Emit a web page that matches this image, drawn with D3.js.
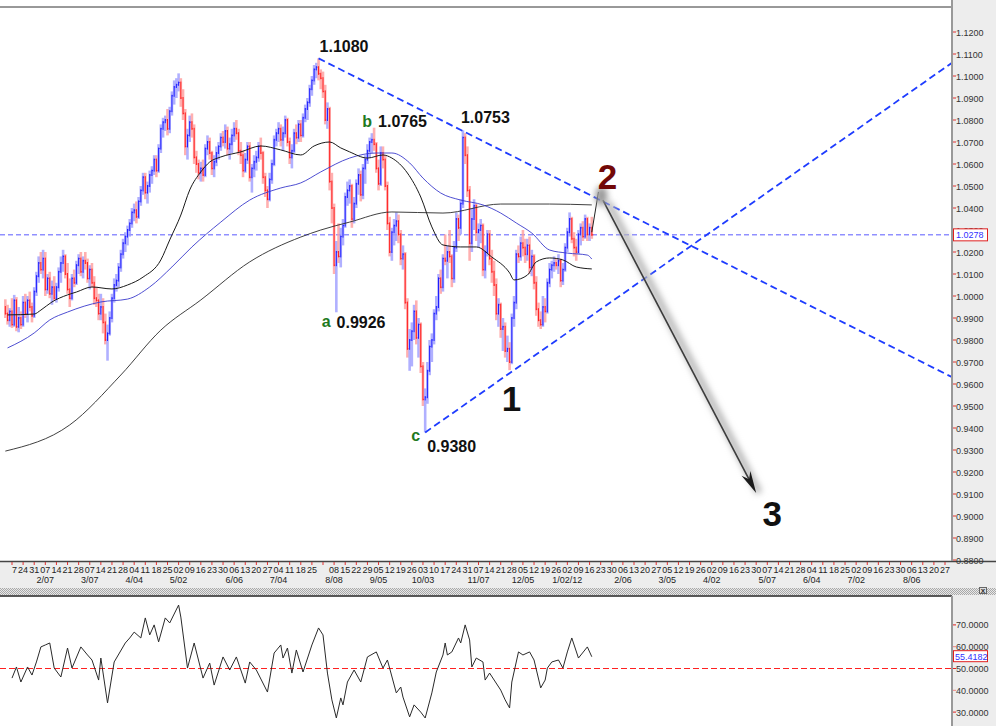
<!DOCTYPE html>
<html>
<head>
<meta charset="utf-8">
<script src="https://cdn.jsdelivr.net/npm/d3@7"></script>
<style>
body { margin: 0; background: #fff; }
svg { display: block; font-family: "Liberation Sans", Arial, sans-serif; }
</style>
</head>
<body>
<div id="chart"></div>
<script>
// day 0 = Mon 17 Jan 2011, one step per trading day
const firstBarDay = -3

// daily bars [open, high, low, close]
const bars = [
  [0.9950,0.9985,0.9900,0.9920],[0.9920,0.9960,0.9870,0.9890],[0.9890,0.9945,0.9860,0.9930],
  [0.9930,0.9990,0.9855,0.9870],[0.9870,1.0005,0.9860,0.9980],[0.9980,0.9995,0.9840,0.9860],[0.9860,0.9950,0.9835,0.9900],[0.9900,0.9930,0.9850,0.9870],
  [0.9870,1.0000,0.9860,0.9970],[0.9970,1.0010,0.9900,0.9920],[0.9920,1.0000,0.9880,0.9980],[0.9980,1.0020,0.9930,0.9950],[0.9950,0.9970,0.9880,0.9910],
  [0.9910,1.0040,0.9900,1.0020],[1.0020,1.0110,1.0000,1.0090],[1.0090,1.0180,1.0060,1.0150],[1.0150,1.0200,1.0100,1.0120],[1.0120,1.0210,1.0080,1.0170],
  [1.0170,1.0200,1.0000,1.0030],[1.0030,1.0100,1.0010,1.0080],[1.0080,1.0110,0.9990,1.0010],[1.0010,1.0070,0.9960,1.0040],[1.0040,1.0090,0.9980,0.9990],
  [0.9990,1.0060,0.9970,1.0040],[1.0040,1.0130,1.0020,1.0110],[1.0110,1.0180,1.0060,1.0150],[1.0150,1.0210,1.0110,1.0180],[1.0180,1.0190,1.0080,1.0100],
  [1.0100,1.0150,1.0010,1.0030],[1.0030,1.0080,0.9950,0.9990],[0.9990,1.0100,0.9980,1.0080],[1.0080,1.0120,1.0040,1.0060],[1.0060,1.0160,1.0050,1.0140],
  [1.0140,1.0190,1.0100,1.0170],[1.0170,1.0200,1.0090,1.0110],[1.0110,1.0180,1.0080,1.0160],[1.0160,1.0200,1.0120,1.0150],[1.0150,1.0170,1.0060,1.0080],
  [1.0080,1.0140,1.0030,1.0120],[1.0120,1.0150,1.0040,1.0060],[1.0060,1.0090,0.9960,0.9990],[0.9990,1.0040,0.9950,0.9980],[0.9980,1.0010,0.9890,0.9920],
  [0.9920,1.0010,0.9890,0.9950],[0.9950,0.9990,0.9830,0.9880],[0.9880,0.9920,0.9780,0.9800],[0.9800,0.9870,0.9706,0.9830],[0.9830,0.9930,0.9820,0.9900],
  [0.9900,1.0010,0.9880,0.9990],[0.9990,1.0080,0.9970,1.0050],[1.0050,1.0100,1.0020,1.0070],[1.0070,1.0150,1.0040,1.0130],[1.0130,1.0210,1.0110,1.0190],
  [1.0190,1.0260,1.0170,1.0240],[1.0240,1.0290,1.0200,1.0270],[1.0270,1.0320,1.0230,1.0300],[1.0300,1.0350,1.0270,1.0330],[1.0330,1.0400,1.0310,1.0380],
  [1.0380,1.0420,1.0340,1.0390],[1.0390,1.0430,1.0330,1.0360],[1.0360,1.0450,1.0350,1.0430],[1.0430,1.0500,1.0410,1.0480],[1.0480,1.0560,1.0460,1.0540],
  [1.0540,1.0560,1.0440,1.0470],[1.0470,1.0520,1.0420,1.0500],[1.0500,1.0570,1.0470,1.0550],[1.0550,1.0590,1.0510,1.0570],[1.0570,1.0640,1.0550,1.0620],
  [1.0620,1.0640,1.0540,1.0570],[1.0570,1.0690,1.0560,1.0670],[1.0670,1.0780,1.0650,1.0760],[1.0760,1.0810,1.0720,1.0790],[1.0790,1.0820,1.0750,1.0800],
  [1.0800,1.0850,1.0730,1.0760],[1.0760,1.0860,1.0740,1.0840],[1.0840,1.0930,1.0820,1.0910],[1.0910,1.0980,1.0870,1.0950],[1.0950,1.0990,1.0900,1.0960],
  [1.0960,1.1012,1.0930,1.0970],[1.0970,1.0990,1.0860,1.0900],[1.0900,1.0940,1.0800,1.0830],[1.0830,1.0850,1.0640,1.0680],[1.0680,1.0760,1.0620,1.0730],
  [1.0730,1.0820,1.0700,1.0790],[1.0790,1.0830,1.0720,1.0760],[1.0760,1.0780,1.0600,1.0630],[1.0630,1.0660,1.0560,1.0600],[1.0600,1.0620,1.0530,1.0560],
  [1.0560,1.0610,1.0520,1.0580],[1.0580,1.0620,1.0520,1.0550],[1.0550,1.0690,1.0540,1.0670],[1.0670,1.0730,1.0640,1.0700],[1.0700,1.0720,1.0620,1.0650],
  [1.0650,1.0660,1.0550,1.0580],[1.0580,1.0640,1.0540,1.0610],[1.0610,1.0680,1.0590,1.0650],[1.0650,1.0700,1.0620,1.0680],[1.0680,1.0740,1.0660,1.0720],
  [1.0720,1.0750,1.0680,1.0700],[1.0700,1.0780,1.0670,1.0750],[1.0750,1.0770,1.0640,1.0670],[1.0670,1.0720,1.0620,1.0690],[1.0690,1.0760,1.0650,1.0730],
  [1.0730,1.0790,1.0700,1.0760],[1.0760,1.0800,1.0710,1.0740],[1.0740,1.0760,1.0640,1.0660],[1.0660,1.0700,1.0600,1.0640],[1.0640,1.0660,1.0540,1.0570],
  [1.0570,1.0650,1.0560,1.0620],[1.0620,1.0700,1.0600,1.0680],[1.0680,1.0700,1.0520,1.0540],[1.0540,1.0600,1.0470,1.0580],[1.0580,1.0640,1.0540,1.0610],
  [1.0610,1.0660,1.0570,1.0630],[1.0630,1.0700,1.0610,1.0680],[1.0680,1.0720,1.0620,1.0650],[1.0650,1.0660,1.0510,1.0540],[1.0540,1.0560,1.0450,1.0480],
  [1.0480,1.0500,1.0400,1.0440],[1.0440,1.0560,1.0430,1.0530],[1.0530,1.0620,1.0510,1.0600],[1.0600,1.0730,1.0590,1.0710],[1.0710,1.0760,1.0680,1.0740],
  [1.0740,1.0790,1.0700,1.0760],[1.0760,1.0780,1.0680,1.0710],[1.0710,1.0770,1.0660,1.0740],[1.0740,1.0820,1.0720,1.0800],[1.0800,1.0810,1.0680,1.0700],
  [1.0700,1.0720,1.0600,1.0630],[1.0630,1.0690,1.0580,1.0660],[1.0660,1.0760,1.0650,1.0740],[1.0740,1.0780,1.0690,1.0720],[1.0720,1.0800,1.0700,1.0780],
  [1.0780,1.0800,1.0700,1.0730],[1.0730,1.0830,1.0720,1.0810],[1.0810,1.0870,1.0790,1.0850],[1.0850,1.0900,1.0800,1.0880],[1.0880,1.0960,1.0860,1.0940],
  [1.0940,1.1000,1.0910,1.0980],[1.0980,1.1050,1.0960,1.1030],[1.1030,1.1060,1.0990,1.1040],[1.1040,1.1080,1.0980,1.1010],[1.1010,1.1030,1.0940,1.0990],
  [1.0990,1.1020,1.0900,1.0930],[1.0930,1.0960,1.0780,1.0800],[1.0800,1.0880,1.0760,1.0850],[1.0850,1.0860,1.0480,1.0520],[1.0520,1.0560,1.0330,1.0400],
  [1.0400,1.0420,1.0100,1.0140],[1.0140,1.0250,0.9926,1.0200],[1.0200,1.0330,1.0150,1.0180],[1.0180,1.0310,1.0130,1.0270],[1.0270,1.0350,1.0230,1.0320],
  [1.0320,1.0470,1.0310,1.0450],[1.0450,1.0520,1.0410,1.0480],[1.0480,1.0530,1.0420,1.0500],[1.0500,1.0510,1.0310,1.0350],[1.0350,1.0450,1.0330,1.0420],
  [1.0420,1.0530,1.0400,1.0510],[1.0510,1.0580,1.0460,1.0550],[1.0550,1.0570,1.0430,1.0460],[1.0460,1.0600,1.0440,1.0580],[1.0580,1.0640,1.0510,1.0620],
  [1.0620,1.0690,1.0600,1.0660],[1.0660,1.0720,1.0630,1.0700],[1.0700,1.0740,1.0650,1.0710],[1.0710,1.0765,1.0660,1.0690],[1.0690,1.0700,1.0560,1.0580],
  [1.0580,1.0620,1.0480,1.0510],[1.0510,1.0680,1.0500,1.0650],[1.0650,1.0680,1.0580,1.0620],[1.0620,1.0640,1.0480,1.0500],[1.0500,1.0520,1.0300,1.0330],
  [1.0330,1.0360,1.0180,1.0200],[1.0200,1.0310,1.0160,1.0290],[1.0290,1.0350,1.0230,1.0320],[1.0320,1.0380,1.0250,1.0340],[1.0340,1.0370,1.0240,1.0280],
  [1.0280,1.0300,1.0140,1.0170],[1.0170,1.0230,1.0120,1.0190],[1.0190,1.0200,0.9940,0.9970],[0.9970,0.9990,0.9720,0.9760],[0.9760,0.9850,0.9660,0.9800],
  [0.9800,0.9880,0.9680,0.9840],[0.9840,0.9960,0.9800,0.9930],[0.9930,0.9980,0.9780,0.9810],[0.9810,0.9900,0.9720,0.9870],[0.9870,0.9880,0.9650,0.9680],
  [0.9680,0.9700,0.9500,0.9530],[0.9530,0.9580,0.9380,0.9540],[0.9540,0.9700,0.9510,0.9660],[0.9660,0.9800,0.9640,0.9770],[0.9770,0.9830,0.9700,0.9800],
  [0.9800,0.9940,0.9780,0.9920],[0.9920,1.0000,0.9890,0.9950],[0.9950,1.0100,0.9930,1.0080],[1.0080,1.0120,1.0010,1.0040],[1.0040,1.0190,1.0020,1.0170],
  [1.0170,1.0280,1.0140,1.0160],[1.0160,1.0230,1.0080,1.0200],[1.0200,1.0300,1.0150,1.0180],[1.0180,1.0190,1.0040,1.0080],[1.0080,1.0250,1.0060,1.0220],
  [1.0220,1.0380,1.0200,1.0350],[1.0350,1.0370,1.0250,1.0310],[1.0310,1.0440,1.0280,1.0420],[1.0420,1.0753,1.0400,1.0720],[1.0720,1.0740,1.0600,1.0640],
  [1.0640,1.0680,1.0450,1.0480],[1.0480,1.0500,1.0160,1.0240],[1.0240,1.0400,1.0200,1.0350],[1.0350,1.0440,1.0300,1.0410],[1.0410,1.0420,1.0250,1.0290],
  [1.0290,1.0330,1.0220,1.0300],[1.0300,1.0350,1.0240,1.0320],[1.0320,1.0330,1.0090,1.0120],[1.0120,1.0230,1.0080,1.0200],[1.0200,1.0300,1.0180,1.0280],
  [1.0280,1.0300,1.0140,1.0170],[1.0170,1.0210,1.0060,1.0110],[1.0110,1.0160,1.0000,1.0050],[1.0050,1.0080,0.9890,0.9920],[0.9920,0.9990,0.9860,0.9960],
  [0.9960,0.9970,0.9810,0.9850],[0.9850,0.9900,0.9750,0.9860],[0.9860,0.9880,0.9720,0.9750],[0.9750,0.9820,0.9700,0.9760],[0.9760,0.9790,0.9663,0.9700],
  [0.9700,0.9920,0.9690,0.9900],[0.9900,1.0000,0.9860,0.9970],[0.9970,1.0210,0.9940,1.0190],[1.0190,1.0230,1.0150,1.0180],[1.0180,1.0270,1.0160,1.0240],
  [1.0240,1.0300,1.0180,1.0220],[1.0220,1.0260,1.0150,1.0190],[1.0190,1.0260,1.0160,1.0230],[1.0230,1.0270,1.0100,1.0130],[1.0130,1.0210,1.0090,1.0180],
  [1.0180,1.0190,1.0030,1.0060],[1.0060,1.0090,0.9910,0.9940],[0.9940,0.9970,0.9860,0.9890],[0.9890,0.9930,0.9850,0.9870],[0.9870,1.0000,0.9860,0.9950],
  [0.9950,0.9990,0.9880,0.9930],[0.9930,1.0080,0.9920,1.0060],[1.0060,1.0150,1.0040,1.0120],[1.0120,1.0160,1.0080,1.0140],[1.0140,1.0180,1.0110,1.0150],
  [1.0150,1.0170,1.0120,1.0140],[1.0140,1.0190,1.0100,1.0160],[1.0160,1.0170,1.0040,1.0070],[1.0070,1.0150,1.0050,1.0120],[1.0120,1.0240,1.0110,1.0220],
  [1.0220,1.0310,1.0200,1.0290],[1.0290,1.0380,1.0270,1.0350],[1.0350,1.0360,1.0240,1.0260],[1.0260,1.0290,1.0180,1.0220],[1.0220,1.0260,1.0160,1.0200],
  [1.0200,1.0300,1.0190,1.0280],[1.0280,1.0330,1.0230,1.0310],[1.0310,1.0340,1.0250,1.0270],[1.0270,1.0370,1.0260,1.0350],[1.0350,1.0360,1.0250,1.0280],
  [1.0280,1.0330,1.0250,1.0310],[1.0310,1.0360,1.0260,1.0278]
]

// moving averages: [day, price]
const maShort = [[-2,0.9914],[10,0.9918],[13,0.9936],[18,0.9973],[25,1.0005],[29,1.0018],[36,1.0041],[45,1.0032],[52,1.0050],[59,1.0086],
  [67,1.0164],[71,1.0255],[76,1.0368],[80,1.0482],[85,1.0564],[89,1.0609],[94,1.0632],[103,1.0655],[112,1.0682],[121,1.0664],
  [130,1.0641],[136,1.0682],[143,1.0700],[148,1.0673],[152,1.0655],[160,1.0627],[167,1.0641],[171,1.0627],[178,1.0559],[184,1.0450],
  [189,1.0314],[194,1.0232],[202,1.0223],[209,1.0223],[216,1.0177],[224,1.0105],[226,1.0073],[232,1.0095],[236,1.0155],[242,1.0173],
  [248,1.0164],[254,1.0132],[261,1.0123]]
const maMid = [[-2,0.9764],[10,0.9832],[17,0.9891],[25,0.9927],[40,0.9973],[52,0.9986],[62,1.0041],[72,1.0132],[81,1.0223],[94,1.0336],
  [107,1.0436],[121,1.0491],[130,1.0514],[139,1.0564],[152,1.0627],[164,1.0650],[171,1.0650],[179,1.0605],[185,1.0536],[193,1.0468],
  [202,1.0436],[212,1.0414],[220,1.0377],[227,1.0332],[234,1.0286],[242,1.0209],[250,1.0195],[259,1.0186],[261,1.0168]]
const maLong = [[-3,0.9295],[26,0.9414],[49,0.9641],[67,0.9845],[85,0.9982],[107,1.0155],[130,1.0268],[139,1.0300],[152,1.0336],
  [171,1.0382],[194,1.0377],[220,1.0418],[242,1.0418],[261,1.0414]]

// RSI: [day, value]
const rsi = [[0,45.6],[2,50.7],[4,43.8],[7,50.7],[9,47],[11,53],[13,59.9],[15,60.8],[17,61.7],[19,50.2],[22,46.1],[25,59.4],[27,50.2],
  [31,59.9],[34,56.2],[36,53.9],[39,44.7],[40,54.8],[43,34.2],[46,53],[51,61.7],[53,64],[55,66.7],[58,64],[60,73.2],[62,65.4],
  [64,70],[66,62.2],[69,73.2],[71,70.9],[75,79.1],[76,73.6],[79,50.2],[82,61.7],[86,45.6],[89,52.5],[91,42.4],[95,55.3],[98,49.3],
  [101,55.3],[105,43.3],[107,53],[110,49.3],[115,39.2],[118,57.1],[121,60.8],[122,54.8],[124,59.4],[126,47.9],[128,58.5],[131,48.4],
  [135,60.8],[138,68.6],[140,65.4],[142,47.9],[144,35.6],[146,27.3],[148,36.5],[149,33.3],[151,43.8],[154,49.3],[157,43.8],[160,55.3],
  [164,57.6],[167,50.2],[169,53.9],[173,38.8],[175,41.5],[176,36.9],[179,27.8],[181,33.3],[184,30],[186,27.3],[189,38.8],[191,48.4],
  [194,56.2],[195,61.7],[196,56.2],[198,57.6],[201,64],[202,61.7],[204,70],[206,63.1],[207,50.7],[209,54.8],[212,53],[213,44.7],
  [215,47.9],[220,40.1],[222,35.6],[224,31.9],[225,43.8],[228,57.6],[230,56.2],[233,57.6],[235,53.9],[238,41.1],[240,44.7],[241,50.2],
  [243,53],[246,53.9],[248,50.2],[250,57.6],[252,64],[255,54.8],[259,59.9],[261,55.4]]

// analysis marks: [day, price]
const downTrend = [[138,1.1080],[423,0.9632]]
const upTrend = [[186,0.9380],[423,1.1059]]
const toWave2 = [[261,1.0290],[264,1.0473]]
const wave3Arrow = [[266,1.0436],[335,0.9105]]
const lastPrice = 1.0278
const lastRsi = 55.4182

const pivots = [
  { day: 138, price: 1.1080, letter: "", text: "1.1080" },
  { day: 163, price: 1.0765, letter: "b", text: "1.0765" },
  { day: 203, price: 1.0753, letter: "", text: "1.0753" },
  { day: 147, price: 0.9926, letter: "a", text: "0.9926" },
  { day: 186, price: 0.9380, letter: "c", text: "0.9380" }
]
const waves = [
  { label: "1", day: 224, price: 0.9663 },
  { label: "2", day: 264, price: 1.0473 },
  { label: "3", day: 335, price: 0.9105 }
]

// axis labels
const weekLabels = ["17","24","31","07","14","21","28","07","14","21","28","04","11","18","25","02","09","16","23","30",
  "06","13","20","27","04","11","18","25","","08","15","22","29","05","12","19","26","03","10","17","24","31","07","14","21","28",
  "05","12","19","26","02","09","16","23","30","06","13","20","27","05","12","19","26","02","09","16","23","30","07","14","21","28",
  "04","11","18","25","02","09","16","23","30","06","13","20","27"]
const monthLabels = [[3,"2/07"],[7,"3/07"],[11,"4/04"],[15,"5/02"],[20,"6/06"],[24,"7/04"],[29,"8/08"],[33,"9/05"],[37,"10/03"],
  [42,"11/07"],[46,"12/05"],[50,"1/02/12"],[55,"2/06"],[59,"3/05"],[63,"4/02"],[68,"5/07"],[72,"6/04"],[76,"7/02"],[81,"8/06"]]
const priceTicks = d3.range(0.88, 1.1201, 0.01)
const rsiTicks = [30, 40, 50, 60, 70]

let width = 996
let height = 726
let plotRight = 952
let mainTop = 7, mainBottom = 561
let rsiTop = 596

let svg = d3.select("#chart").append("svg")
  .attr("width", width)
  .attr("height", height)

let x = d3.scaleLinear().domain([0, 420]).range([12, 945])
let y = d3.scaleLinear().domain([0.88, 1.12]).range([560, 32])
let yr = d3.scaleLinear().domain([30, 70]).range([712.1, 624.9])

let defs = svg.append("defs")
defs.append("clipPath").attr("id", "mainClip")
  .append("rect").attr("x", 0).attr("y", mainTop).attr("width", plotRight).attr("height", mainBottom - mainTop)
defs.append("clipPath").attr("id", "rsiClip")
  .append("rect").attr("x", 0).attr("y", rsiTop).attr("width", plotRight).attr("height", height - rsiTop)
defs.append("clipPath").attr("id", "xClip")
  .append("rect").attr("x", 12).attr("y", mainBottom).attr("width", plotRight - 12).attr("height", 30)
defs.append("filter").attr("id", "blur").attr("x", "-50%").attr("y", "-50%").attr("width", "200%").attr("height", "200%")
  .append("feGaussianBlur").attr("stdDeviation", 3)
let dots = defs.append("pattern").attr("id", "dots").attr("width", 2).attr("height", 2).attr("patternUnits", "userSpaceOnUse")
dots.append("rect").attr("width", 2).attr("height", 2).attr("fill", "#e8e8e8")
dots.append("rect").attr("width", 1).attr("height", 1).attr("fill", "#a8a8a8")
dots.append("rect").attr("x", 1).attr("y", 1).attr("width", 1).attr("height", 1).attr("fill", "#a8a8a8")

// backgrounds
svg.append("rect").attr("width", width).attr("height", height).attr("fill", "#ededed")
svg.append("rect").attr("x", 0).attr("y", 0).attr("width", plotRight).attr("height", mainBottom).attr("fill", "#fff")
svg.append("rect").attr("x", 0).attr("y", rsiTop).attr("width", plotRight).attr("height", height - rsiTop).attr("fill", "#fff")
svg.append("rect").attr("x", 0).attr("y", 588).attr("width", width).attr("height", 7).attr("fill", "url(#dots)")

// ---------- main price panel ----------
let main = svg.append("g").attr("clip-path", "url(#mainClip)")

main.append("line")
  .attr("x1", 0).attr("x2", plotRight)
  .attr("y1", y(lastPrice)).attr("y2", y(lastPrice))
  .attr("stroke", "#5a5aff").attr("stroke-width", 1).attr("stroke-dasharray", "5,3")

let barData = bars.map((b, i) => ({ day: firstBarDay + i, o: b[0], h: b[1], l: b[2], c: b[3] }))

let barGroups = main.selectAll(".bar")
  .data(barData)
  .enter()
  .append("g")
  .attr("class", "bar")

barGroups.append("line")
  .attr("x1", d => x(d.day)).attr("x2", d => x(d.day))
  .attr("y1", d => y(d.h)).attr("y2", d => y(d.l))
  .attr("stroke", d => d.c >= d.o ? "#9c9cff" : "#ff9c9c")
  .attr("stroke-width", 2.6)
  .attr("stroke-opacity", 0.8)

barGroups.append("line")
  .attr("x1", d => x(d.day)).attr("x2", d => x(d.day))
  .attr("y1", d => y(Math.max(d.o, d.c)) - 1).attr("y2", d => y(Math.min(d.o, d.c)) + 1)
  .attr("stroke", d => d.c >= d.o ? "#1f1fff" : "#ff1f1f")
  .attr("stroke-width", 1)

barGroups.append("line")
  .attr("x1", d => x(d.day)).attr("x2", d => x(d.day) + 1.5)
  .attr("y1", d => y(d.c)).attr("y2", d => y(d.c))
  .attr("stroke", d => d.c >= d.o ? "#1f1fff" : "#ff1f1f")
  .attr("stroke-width", 1)

let maLine = d3.line().x(p => x(p[0])).y(p => y(p[1])).curve(d3.curveMonotoneX)

main.append("path").attr("d", maLine(maLong)).attr("fill", "none").attr("stroke", "#2a2a2a").attr("stroke-width", 0.9)
main.append("path").attr("d", maLine(maMid)).attr("fill", "none").attr("stroke", "#3a3acc").attr("stroke-width", 0.9)
main.append("path").attr("d", maLine(maShort)).attr("fill", "none").attr("stroke", "#1a1a1a").attr("stroke-width", 1)

let straight = d3.line().x(p => x(p[0])).y(p => y(p[1]))

main.selectAll(".trend")
  .data([downTrend, upTrend])
  .enter()
  .append("path")
  .attr("class", "trend")
  .attr("d", straight)
  .attr("fill", "none")
  .attr("stroke", "#1e3cff")
  .attr("stroke-width", 1.8)
  .attr("stroke-dasharray", "7,4")

// arrow from wave 2 toward wave 3, with its soft shadow
let a0 = [x(wave3Arrow[0][0]), y(wave3Arrow[0][1])]
let a1 = [x(wave3Arrow[1][0]), y(wave3Arrow[1][1])]
let ang = Math.atan2(a1[1] - a0[1], a1[0] - a0[0])
main.append("line")
  .attr("x1", a0[0] + 5).attr("y1", a0[1] + 2).attr("x2", a1[0] + 3).attr("y2", a1[1])
  .attr("stroke", "#b8b8b8").attr("stroke-width", 7).attr("filter", "url(#blur)")
main.append("path")
  .attr("d", straight(toWave2))
  .attr("stroke", "#222").attr("stroke-width", 1).attr("fill", "none")
main.append("line")
  .attr("x1", a0[0]).attr("y1", a0[1])
  .attr("x2", a1[0] - 8 * Math.cos(ang)).attr("y2", a1[1] - 8 * Math.sin(ang))
  .attr("stroke", "#3c3c3c").attr("stroke-width", 1.6)
let headLen = 22, headW = 5
main.append("path")
  .attr("d", d3.line()([
    [a1[0], a1[1]],
    [a1[0] - headLen * Math.cos(ang) - headW * Math.sin(ang), a1[1] - headLen * Math.sin(ang) + headW * Math.cos(ang)],
    [a1[0] - headLen * 0.7 * Math.cos(ang), a1[1] - headLen * 0.7 * Math.sin(ang)],
    [a1[0] - headLen * Math.cos(ang) + headW * Math.sin(ang), a1[1] - headLen * Math.sin(ang) - headW * Math.cos(ang)]
  ]) + "Z")
  .attr("fill", "#1a1a1a")

// pivot labels
let pivotOffsets = { "1.1080": [1, -6], "1.0765": [4, -1], "1.0753": [-2, -7], "0.9926": [-2, 16], "0.9380": [2, 20] }
let letterOffsets = { "b": [-2, -1], "a": [-8, 15], "c": [-5, 9] }

pivots.forEach(p => {
  let off = pivotOffsets[p.text]
  main.append("text")
    .attr("x", x(p.day) + off[0]).attr("y", y(p.price) + off[1])
    .attr("font-size", 16).attr("font-weight", "bold").attr("fill", "#111")
    .text(p.text)
  if (p.letter) {
    let lo = letterOffsets[p.letter]
    main.append("text")
      .attr("x", x(p.day) + lo[0]).attr("y", y(p.price) + lo[1])
      .attr("text-anchor", "end")
      .attr("font-size", 16).attr("font-weight", "bold").attr("fill", "#1f7a1f")
      .text(p.letter)
  }
})

// wave numbers
let waveStyle = {
  "1": { dx: 2, dy: 41, fill: "#111" },
  "2": { dx: 9, dy: -3, fill: "#720808" },
  "3": { dx: 16, dy: 33, fill: "#111" }
}
waves.forEach(w => {
  let s = waveStyle[w.label]
  if (w.label === "2") {
    main.append("ellipse")
      .attr("cx", x(w.day) + 3).attr("cy", y(w.price) + 4).attr("rx", 6).attr("ry", 10)
      .attr("fill", "#999").attr("filter", "url(#blur)")
  }
  main.append("text")
    .attr("x", x(w.day) + s.dx).attr("y", y(w.price) + s.dy)
    .attr("text-anchor", "middle")
    .attr("font-size", 35).attr("font-weight", "bold").attr("fill", s.fill)
    .text(w.label)
})

// frame lines
svg.append("line").attr("x1", 0).attr("x2", plotRight).attr("y1", mainTop).attr("y2", mainTop).attr("stroke", "#333")
svg.append("line").attr("x1", 0).attr("x2", width).attr("y1", mainBottom + 0.5).attr("y2", mainBottom + 0.5).attr("stroke", "#444").attr("stroke-width", 1.5)
svg.append("line").attr("x1", plotRight).attr("x2", plotRight).attr("y1", 0).attr("y2", mainBottom)
  .attr("stroke", "#999").attr("stroke-width", 2)

// right price axis
let pAxis = svg.append("g")
pAxis.selectAll(".ptick")
  .data(priceTicks)
  .enter()
  .append("line")
  .attr("x1", plotRight + 1).attr("x2", plotRight + 4)
  .attr("y1", d => y(d)).attr("y2", d => y(d))
  .attr("stroke", "#e03030")
pAxis.selectAll(".plabel")
  .data(priceTicks)
  .enter()
  .append("text")
  .attr("x", plotRight + 4).attr("y", d => y(d) + 3.5)
  .attr("font-size", 9).attr("fill", "#333")
  .text(d => d.toFixed(4))

pAxis.append("rect")
  .attr("x", plotRight + 1.5).attr("y", y(lastPrice) - 6).attr("width", 34).attr("height", 12)
  .attr("fill", "#fff").attr("stroke", "#e02020")
pAxis.append("text")
  .attr("x", plotRight + 4).attr("y", y(lastPrice) + 3.5)
  .attr("font-size", 9).attr("fill", "#3030ff")
  .text(lastPrice.toFixed(4))

// time axis
let xAxis = svg.append("g")
xAxis.selectAll(".xtick")
  .data(weekLabels)
  .enter()
  .append("line")
  .attr("x1", (d, i) => x(i * 5)).attr("x2", (d, i) => x(i * 5))
  .attr("y1", mainBottom + 1).attr("y2", mainBottom + 4)
  .attr("stroke", "#e03030")
let xLab = xAxis.append("g").attr("clip-path", "url(#xClip)")
xLab.selectAll(".wlabel")
  .data(weekLabels)
  .enter()
  .append("text")
  .attr("x", (d, i) => x(i * 5)).attr("y", 573)
  .attr("text-anchor", "middle").attr("font-size", 9).attr("fill", "#222")
  .text(d => d)
xLab.selectAll(".mlabel")
  .data(monthLabels)
  .enter()
  .append("text")
  .attr("x", d => x(d[0] * 5)).attr("y", 583)
  .attr("text-anchor", "middle").attr("font-size", 9).attr("fill", "#222")
  .text(d => d[1])

// small close box on the splitter
svg.append("rect").attr("x", 979.5).attr("y", 587.5).attr("width", 7).attr("height", 6).attr("fill", "#ddd").attr("stroke", "#666")
svg.append("text").attr("x", 983).attr("y", 593).attr("text-anchor", "middle").attr("font-size", 8).attr("font-weight", "bold").attr("fill", "#333").text("x")

// ---------- RSI panel ----------
svg.append("line").attr("x1", 0).attr("x2", plotRight).attr("y1", rsiTop).attr("y2", rsiTop).attr("stroke", "#222").attr("stroke-width", 1.5)
svg.append("line").attr("x1", plotRight).attr("x2", plotRight).attr("y1", rsiTop).attr("y2", height)
  .attr("stroke", "#999").attr("stroke-width", 2)

let lower = svg.append("g").attr("clip-path", "url(#rsiClip)")
lower.append("line")
  .attr("x1", 0).attr("x2", plotRight).attr("y1", yr(50)).attr("y2", yr(50))
  .attr("stroke", "#ff2020").attr("stroke-width", 1.2).attr("stroke-dasharray", "6,3")
lower.append("path")
  .attr("d", d3.line().x(p => x(p[0])).y(p => yr(p[1]))(rsi))
  .attr("fill", "none").attr("stroke", "#2a2a2a").attr("stroke-width", 1)

let rAxis = svg.append("g")
rAxis.selectAll(".rtick")
  .data(rsiTicks)
  .enter()
  .append("line")
  .attr("x1", plotRight + 1).attr("x2", plotRight + 4)
  .attr("y1", d => yr(d)).attr("y2", d => yr(d))
  .attr("stroke", d => d % 20 === 0 ? "#f08080" : "#e02020")
rAxis.selectAll(".rlabel")
  .data(rsiTicks)
  .enter()
  .append("text")
  .attr("x", plotRight + 4).attr("y", d => yr(d) + 3.5)
  .attr("font-size", 9).attr("fill", "#333")
  .text(d => d.toFixed(4))
rAxis.append("rect")
  .attr("x", plotRight + 1.5).attr("y", yr(lastRsi) - 6).attr("width", 34).attr("height", 11)
  .attr("fill", "#fff").attr("stroke", "#e02020")
rAxis.append("text")
  .attr("x", plotRight + 3).attr("y", yr(lastRsi) + 3.5)
  .attr("font-size", 9).attr("fill", "#3030ff")
  .text(lastRsi.toFixed(4))
</script>
</body>
</html>
